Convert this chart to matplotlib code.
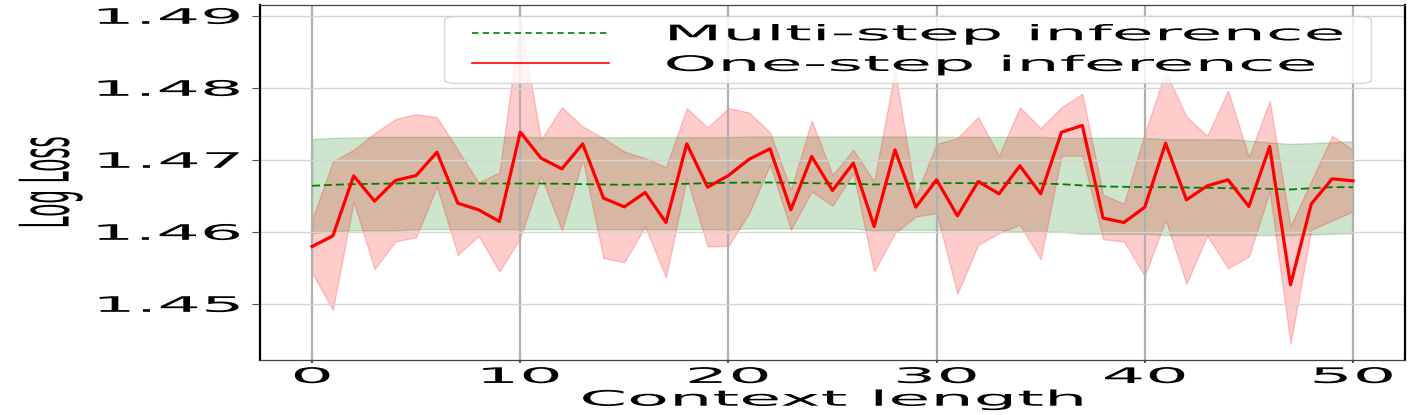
import matplotlib
matplotlib.use("Agg")
import matplotlib.pyplot as plt
from matplotlib.patheffects import AbstractPathEffect
from matplotlib.transforms import Affine2D

# ---------------- data ----------------
context_length = list(range(51))

multi_mean = [1.46639, 1.46653, 1.46662, 1.46667, 1.46671, 1.46676, 1.46676, 1.46676, 1.46671, 1.46671,
              1.46671, 1.46671, 1.46667, 1.46662, 1.46657, 1.46653, 1.46657, 1.46662, 1.46667, 1.46676,
              1.46681, 1.46685, 1.46685, 1.46681, 1.46676, 1.46671, 1.46667, 1.46657, 1.46667, 1.46671,
              1.46676, 1.46676, 1.46676, 1.46676, 1.46676, 1.46671, 1.46662, 1.46644, 1.46630, 1.46625,
              1.46620, 1.46620, 1.46616, 1.46611, 1.46606, 1.46602, 1.46597, 1.46588, 1.46606, 1.46620,
              1.46620]
multi_upper = [1.47287, 1.47306, 1.47310, 1.47319, 1.47319, 1.47319, 1.47319, 1.47319, 1.47319, 1.47319,
               1.47319, 1.47315, 1.47315, 1.47315, 1.47315, 1.47315, 1.47315, 1.47315, 1.47315, 1.47315,
               1.47315, 1.47324, 1.47324, 1.47324, 1.47324, 1.47324, 1.47324, 1.47324, 1.47324, 1.47324,
               1.47324, 1.47319, 1.47319, 1.47319, 1.47319, 1.47319, 1.47306, 1.47306, 1.47306, 1.47306,
               1.47306, 1.47287, 1.47287, 1.47287, 1.47287, 1.47269, 1.47241, 1.47222, 1.47231, 1.47245,
               1.47255]
multi_lower = [1.45981, 1.46005, 1.46019, 1.46019, 1.46019, 1.46037, 1.46037, 1.46037, 1.46037, 1.46037,
               1.46037, 1.46037, 1.46037, 1.46037, 1.46037, 1.46037, 1.46037, 1.46037, 1.46037, 1.46037,
               1.46037, 1.46046, 1.46046, 1.46046, 1.46046, 1.46046, 1.46046, 1.46019, 1.46028, 1.46028,
               1.46028, 1.46028, 1.46028, 1.46028, 1.46000, 1.46000, 1.46000, 1.45972, 1.45972, 1.45972,
               1.45972, 1.45954, 1.45954, 1.45954, 1.45954, 1.45954, 1.45954, 1.45954, 1.45963, 1.45972,
               1.45981]

one_mean = [1.45796, 1.45944, 1.46778, 1.46426, 1.46713, 1.46782, 1.47106, 1.46398, 1.46306, 1.46144,
            1.47384, 1.47023, 1.46875, 1.47222, 1.46468, 1.46347, 1.46546, 1.46130, 1.47222, 1.46620,
            1.46782, 1.47009, 1.47153, 1.46306, 1.47046, 1.46574, 1.46954, 1.46074, 1.47139, 1.46343,
            1.46722, 1.46222, 1.46699, 1.46528, 1.46917, 1.46528, 1.47384, 1.47477, 1.46190, 1.46130,
            1.46343, 1.47231, 1.46444, 1.46639, 1.46722, 1.46352, 1.47185, 1.45264, 1.46389, 1.46736,
            1.46708]
one_upper = [1.46167, 1.46977, 1.47139, 1.47370, 1.47565, 1.47634, 1.47593, 1.47139, 1.46685, 1.46824,
             1.48930, 1.47278, 1.47731, 1.47463, 1.47301, 1.47116, 1.47023, 1.46898, 1.47718, 1.47449,
             1.47718, 1.47657, 1.47380, 1.46583, 1.47546, 1.46792, 1.47139, 1.46699, 1.48241, 1.46491,
             1.47222, 1.47301, 1.47593, 1.47056, 1.47731, 1.47440, 1.47731, 1.47917, 1.46514, 1.46389,
             1.47370, 1.48227, 1.47602, 1.47333, 1.47963, 1.47037, 1.47819, 1.46083, 1.46708, 1.47333,
             1.47139]
one_lower = [1.45426, 1.44917, 1.46421, 1.45481, 1.45866, 1.45926, 1.46630, 1.45681, 1.45944, 1.45449,
             1.45912, 1.46778, 1.46019, 1.47000, 1.45634, 1.45579, 1.46074, 1.45366, 1.46745, 1.45796,
             1.45806, 1.46259, 1.46931, 1.46028, 1.46560, 1.46361, 1.46815, 1.45449, 1.45981, 1.46213,
             1.46259, 1.45139, 1.45819, 1.45981, 1.46097, 1.45620, 1.47056, 1.47056, 1.45898, 1.45866,
             1.45389, 1.46167, 1.45278, 1.45944, 1.45495, 1.45657, 1.46560, 1.44444, 1.46028, 1.46157,
             1.46282]

x_ticks = [0, 10, 20, 30, 40, 50]
y_ticks = [1.45, 1.46, 1.47, 1.48, 1.49]
labels = ["Multi-step inference", "One-step inference"]
x_label = "Context length"
y_label = "Log Loss"

# ---------------- styling helpers ----------------
SX = 3.2      # horizontal stretch of the text glyphs (the reference is a squashed figure)
FS = 15.4     # font size in points


class HStretch(AbstractPathEffect):
    """Draw a path stretched horizontally about an anchor x (display coords)."""

    def __init__(self, sx, anchor="center", anchor_x=None):
        super().__init__()
        self.sx = sx
        self.anchor = anchor
        self.anchor_x = anchor_x

    def draw_path(self, renderer, gc, tpath, affine, rgbFace=None):
        if self.anchor_x is not None:
            x0 = self.anchor_x()
        else:
            ext = tpath.get_extents(affine)
            x0 = {"left": ext.x0, "center": 0.5 * (ext.x0 + ext.x1), "right": ext.x1}[self.anchor]
        t = affine + Affine2D().translate(-x0, 0).scale(self.sx, 1).translate(x0, 0)
        renderer.draw_path(gc, tpath, t, rgbFace)


plt.rcParams["font.family"] = ["DejaVu Sans"]

fig = plt.figure(figsize=(14.21, 4.15), dpi=100)
ax = fig.add_axes([260 / 1421, 55 / 415, 1145 / 1421, 355 / 415])

ax.fill_between(context_length, multi_lower, multi_upper, color="green", alpha=0.2)
ax.plot(context_length, multi_mean, color="green", lw=1.3, linestyle=(0, (4.4, 2.2)),
        label=labels[0])
ax.fill_between(context_length, one_lower, one_upper, color="red", alpha=0.2)
ax.plot(context_length, one_mean, color="red", lw=2.3, label=labels[1])

ax.set_xlim(-2.5, 52.5)
ax.set_ylim(1.4422, 1.4915)
ax.set_xticks(x_ticks)
ax.set_yticks(y_ticks)
ax.set_xticklabels([str(v) for v in x_ticks])
ax.set_yticklabels(["%.2f" % v for v in y_ticks])

ax.grid(True)
ax.xaxis.grid(True, color="#b0b0b0", lw=1.6)
ax.yaxis.grid(True, color="#d6d6d6", lw=1.0)

for side in ("left", "right"):
    ax.spines[side].set_linewidth(1.6)
    ax.spines[side].set_color("black")
for side in ("top", "bottom"):
    ax.spines[side].set_linewidth(0.9)
    ax.spines[side].set_color("#444444")

ax.tick_params(axis="x", length=2.0, width=1.4, color="#555555", pad=3.0, labelsize=FS)
ax.tick_params(axis="y", length=5.8, width=0.8, color="#555555", pad=8.3, labelsize=FS)

ax.set_xlabel(x_label, fontsize=FS)
ax.set_ylabel(y_label, fontsize=FS)
ax.xaxis.set_label_coords(0.5, -0.0837)
ax.yaxis.set_label_coords(-0.1744, 0.5)

for lab in ax.get_xticklabels():
    lab.set_path_effects([HStretch(SX, "center")])
for lab in ax.get_yticklabels():
    lab.set_path_effects([HStretch(SX, "right")])
ax.xaxis.label.set_path_effects([HStretch(SX, "center")])
ax.yaxis.label.set_path_effects([HStretch(SX, "center")])

leg = ax.legend(loc="upper right", fontsize=FS, framealpha=0.8)
right_edge = lambda: ax.transAxes.transform((1.0, 1.0))[0]
leg_fx = [HStretch(SX, anchor_x=right_edge)]
leg.get_frame().set_path_effects(leg_fx)
for t in leg.get_texts():
    t.set_path_effects(leg_fx)
leg_lines = leg.get_lines()
for ln in leg_lines:
    ln.set_path_effects(leg_fx)
leg_lines[0].set_linewidth(1.2)
leg_lines[0].set_linestyle((0, (3.8, 2.6)))
leg_lines[1].set_linewidth(1.2)

fig.savefig("out.png", dpi=100)
